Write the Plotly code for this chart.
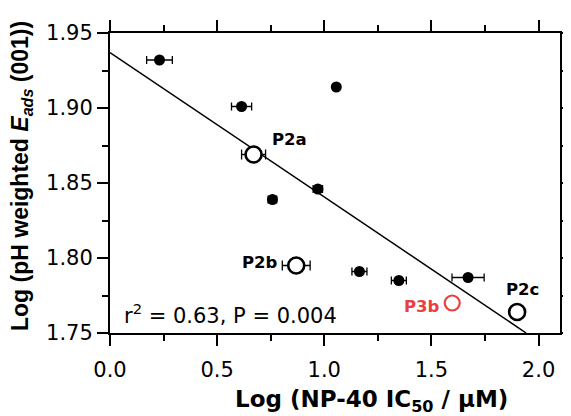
import plotly.graph_objects as go

# Filled points (log IC50, log Eads) with x errors
fill_x = [0.231, 0.614, 0.758, 0.970, 1.056, 1.164, 1.348, 1.671]
fill_y = [1.932, 1.901, 1.839, 1.846, 1.914, 1.791, 1.785, 1.787]
fill_ex = [0.060, 0.047, 0.020, 0.022, 0.012, 0.035, 0.035, 0.075]

# Open (labelled) compounds
open_names = ["P2a", "P2b", "P2c"]
open_x = [0.670, 0.869, 1.900]
open_y = [1.869, 1.795, 1.764]
open_ex = [0.056, 0.065, 0.0]

red_name = "P3b"
red_x = [1.597]
red_y = [1.770]

# Regression line
fit_x = [0.0, 1.942]
fit_y = [1.937, 1.750]

# Label positions
lab_x = [0.838, 0.701, 1.923]
lab_y = [1.8793, 1.7967, 1.7787]
red_lab = (1.458, 1.768)

stats_text = "r<sup>2</sup> = 0.63, P = 0.004"

x_ticks = [0.0, 0.5, 1.0, 1.5, 2.0]
x_ticklabels = ["0.0", "0.5", "1.0", "1.5", "2.0"]
y_ticks = [1.75, 1.80, 1.85, 1.90, 1.95]
y_ticklabels = ["1.75", "1.80", "1.85", "1.90", "1.95"]

RED = "#E8403F"
HFONT = "DejaVu Sans"
VFONT = "Liberation Sans"

fig = go.Figure()

fig.add_trace(go.Scatter(x=fit_x, y=fit_y, mode="lines",
                         line=dict(color="black", width=1.5),
                         showlegend=False, hoverinfo="skip", cliponaxis=True))

fig.add_trace(go.Scatter(x=fill_x, y=fill_y, mode="markers",
                         marker=dict(color="black", size=11),
                         error_x=dict(type="data", array=fill_ex, color="black",
                                      thickness=1.3, width=4),
                         showlegend=False))

fig.add_trace(go.Scatter(x=open_x, y=open_y, mode="markers",
                         marker=dict(color="white", size=16, symbol="circle",
                                     line=dict(color="black", width=2.6)),
                         error_x=dict(type="data", array=open_ex, color="black",
                                      thickness=1.3, width=5),
                         showlegend=False))

fig.add_trace(go.Scatter(x=red_x, y=red_y, mode="markers",
                         marker=dict(color="white", size=15, symbol="circle",
                                     line=dict(color=RED, width=2.2)),
                         showlegend=False))

# invisible trace for mirrored top/right axes
fig.add_trace(go.Scatter(x=[0.0], y=[1.75], xaxis="x2", yaxis="y2",
                         mode="markers", marker=dict(opacity=0),
                         showlegend=False, hoverinfo="skip"))

for name, lx, ly in zip(open_names, lab_x, lab_y):
    fig.add_annotation(x=lx, y=ly, text="<b>%s</b>" % name, showarrow=False,
                       font=dict(family=HFONT, size=16.5, color="black"),
                       xanchor="center", yanchor="middle")
fig.add_annotation(x=red_lab[0], y=red_lab[1], text="<b>%s</b>" % red_name,
                   showarrow=False, font=dict(family=HFONT, size=16.5, color=RED),
                   xanchor="center", yanchor="middle")

fig.add_annotation(x=0.058, y=1.7627, text=stats_text, showarrow=False,
                   font=dict(family=HFONT, size=21, color="black"),
                   xanchor="left", yanchor="middle")

# axis titles as annotations (paper coords relative to plot area)
fig.add_annotation(xref="paper", yref="paper", x=0.582, y=-0.225,
                   text="<b>Log (NP-40 IC<sub>50</sub> / μM)</b>",
                   showarrow=False, xanchor="center", yanchor="middle",
                   font=dict(family=HFONT, size=23, color="black"))
fig.add_annotation(xref="paper", yref="paper", x=-0.198, y=0.523,
                   text="<b>Log (pH weighted <i>E</i><sub><i>ads</i></sub> (001))</b>",
                   showarrow=False, textangle=-90, xanchor="center", yanchor="middle",
                   font=dict(family=VFONT, size=23, color="black"))

axis_common = dict(showgrid=False, zeroline=False, showline=True,
                   linecolor="black", linewidth=2, ticks="outside",
                   ticklen=11, tickwidth=1.5, tickcolor="black", automargin=False)

# the page body adds an 8px offset, so the figure is 8px smaller on each side
fig.update_layout(
    width=563, height=408,
    margin=dict(l=102, r=11, t=25, b=83, autoexpand=False),
    paper_bgcolor="white", plot_bgcolor="white",
    xaxis=dict(range=[0, 2.1], tickvals=x_ticks, ticktext=x_ticklabels,
               tickfont=dict(family=HFONT, size=21, color="black"),
               ticklabelstandoff=6,
               minor=dict(dtick=0.25, tick0=0, ticks="outside", ticklen=6,
                          tickwidth=1.5, tickcolor="black"),
               **axis_common),
    yaxis=dict(range=[1.75, 1.95], tickvals=y_ticks, ticktext=y_ticklabels,
               tickfont=dict(family=HFONT, size=21, color="black"),
               minor=dict(dtick=0.025, tick0=1.75, ticks="outside", ticklen=6,
                          tickwidth=1.5, tickcolor="black"),
               **axis_common),
    xaxis2=dict(range=[0, 2.1], overlaying="x", side="top", tickvals=x_ticks,
                showticklabels=False,
                minor=dict(dtick=0.25, tick0=0, ticks="outside", ticklen=6,
                           tickwidth=1.5, tickcolor="black"),
                **axis_common),
    yaxis2=dict(range=[1.75, 1.95], overlaying="y", side="right", tickvals=y_ticks,
                showticklabels=False,
                minor=dict(dtick=0.025, tick0=1.75, ticks="outside", ticklen=6,
                           tickwidth=1.5, tickcolor="black"),
                **axis_common),
)

fig.write_html("out.html")
